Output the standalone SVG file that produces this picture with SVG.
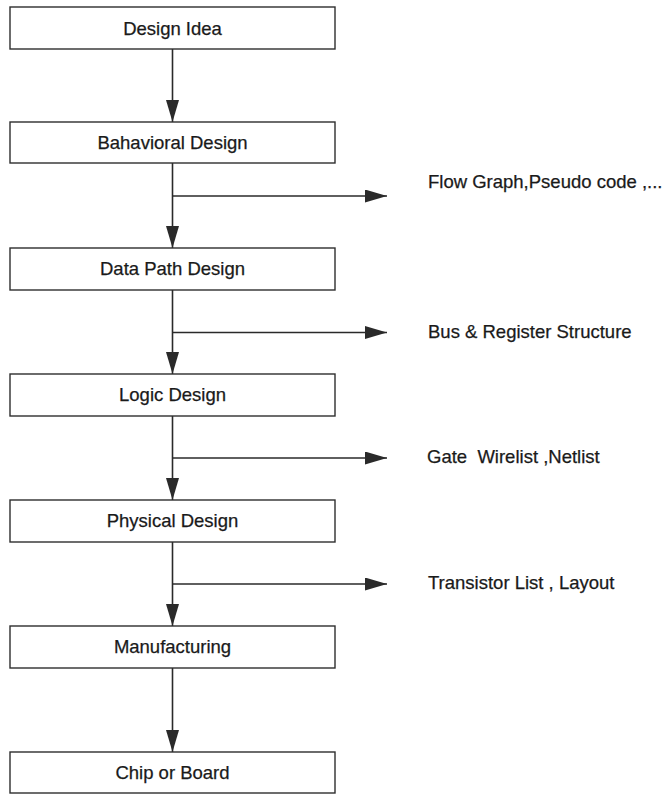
<svg xmlns="http://www.w3.org/2000/svg" width="664" height="794" viewBox="0 0 664 794">
  <style>
    .box { fill: #ffffff; stroke: #2e2e2e; stroke-width: 1.4; }
    .lbl { font-family: "Liberation Sans", Arial, sans-serif; font-size: 18.5px; fill: #1a1a1a; stroke: #1a1a1a; stroke-width: 0.25; }
    .ctr { text-anchor: middle; }
    .wire { fill: none; stroke: #2a2a2a; stroke-width: 1.6; }
  </style>
  <defs>
    <marker id="arrow" markerUnits="userSpaceOnUse" markerWidth="23" markerHeight="14" refX="22" refY="6.5" orient="auto">
      <path d="M0,0 L22,6.5 L0,13 Z" fill="#2a2a2a"/>
    </marker>
  </defs>
  <rect width="664" height="794" fill="#ffffff"/>

  <!-- flow connectors -->
  <g id="connectors">
    <line class="wire" x1="172.5" y1="49" x2="172.5" y2="122" marker-end="url(#arrow)"/>
    <line class="wire" x1="172.5" y1="163" x2="172.5" y2="248" marker-end="url(#arrow)"/>
    <line class="wire" x1="172.5" y1="290" x2="172.5" y2="374" marker-end="url(#arrow)"/>
    <line class="wire" x1="172.5" y1="416" x2="172.5" y2="500" marker-end="url(#arrow)"/>
    <line class="wire" x1="172.5" y1="542" x2="172.5" y2="626" marker-end="url(#arrow)"/>
    <line class="wire" x1="172.5" y1="668" x2="172.5" y2="752" marker-end="url(#arrow)"/>
    <!-- side outputs -->
    <line class="wire" x1="172.5" y1="196" x2="387" y2="196" marker-end="url(#arrow)"/>
    <line class="wire" x1="172.5" y1="332.5" x2="387" y2="332.5" marker-end="url(#arrow)"/>
    <line class="wire" x1="172.5" y1="458" x2="387" y2="458" marker-end="url(#arrow)"/>
    <line class="wire" x1="172.5" y1="584" x2="387" y2="584" marker-end="url(#arrow)"/>
  </g>

  <g id="design-idea">
    <rect class="box" x="10" y="7" width="325" height="42"/>
    <text class="lbl ctr" x="172.5" y="34.5">Design Idea</text>
  </g>
  <g id="behavioral-design">
    <rect class="box" x="10" y="122" width="325" height="41"/>
    <text class="lbl ctr" x="172.5" y="149">Bahavioral Design</text>
  </g>
  <g id="data-path-design">
    <rect class="box" x="10" y="248" width="325" height="42"/>
    <text class="lbl ctr" x="172.5" y="275">Data Path Design</text>
  </g>
  <g id="logic-design">
    <rect class="box" x="10" y="374" width="325" height="42"/>
    <text class="lbl ctr" x="172.5" y="401">Logic Design</text>
  </g>
  <g id="physical-design">
    <rect class="box" x="10" y="500" width="325" height="42"/>
    <text class="lbl ctr" x="172.5" y="527">Physical Design</text>
  </g>
  <g id="manufacturing">
    <rect class="box" x="10" y="626" width="325" height="42"/>
    <text class="lbl ctr" x="172.5" y="653">Manufacturing</text>
  </g>
  <g id="chip-or-board">
    <rect class="box" x="10" y="752" width="325" height="41"/>
    <text class="lbl ctr" x="172.5" y="779">Chip or Board</text>
  </g>

  <!-- outputs of each design step -->
  <g id="out-flow-graph">
    <text class="lbl" x="428" y="188">Flow Graph,Pseudo code ,...</text>
  </g>
  <g id="out-bus-register">
    <text class="lbl" x="428" y="338">Bus &amp; Register Structure</text>
  </g>
  <g id="out-gate-netlist">
    <text class="lbl" x="427" y="463" xml:space="preserve">Gate  Wirelist ,Netlist</text>
  </g>
  <g id="out-transistor-layout">
    <text class="lbl" x="428" y="589">Transistor List , Layout</text>
  </g>
</svg>
